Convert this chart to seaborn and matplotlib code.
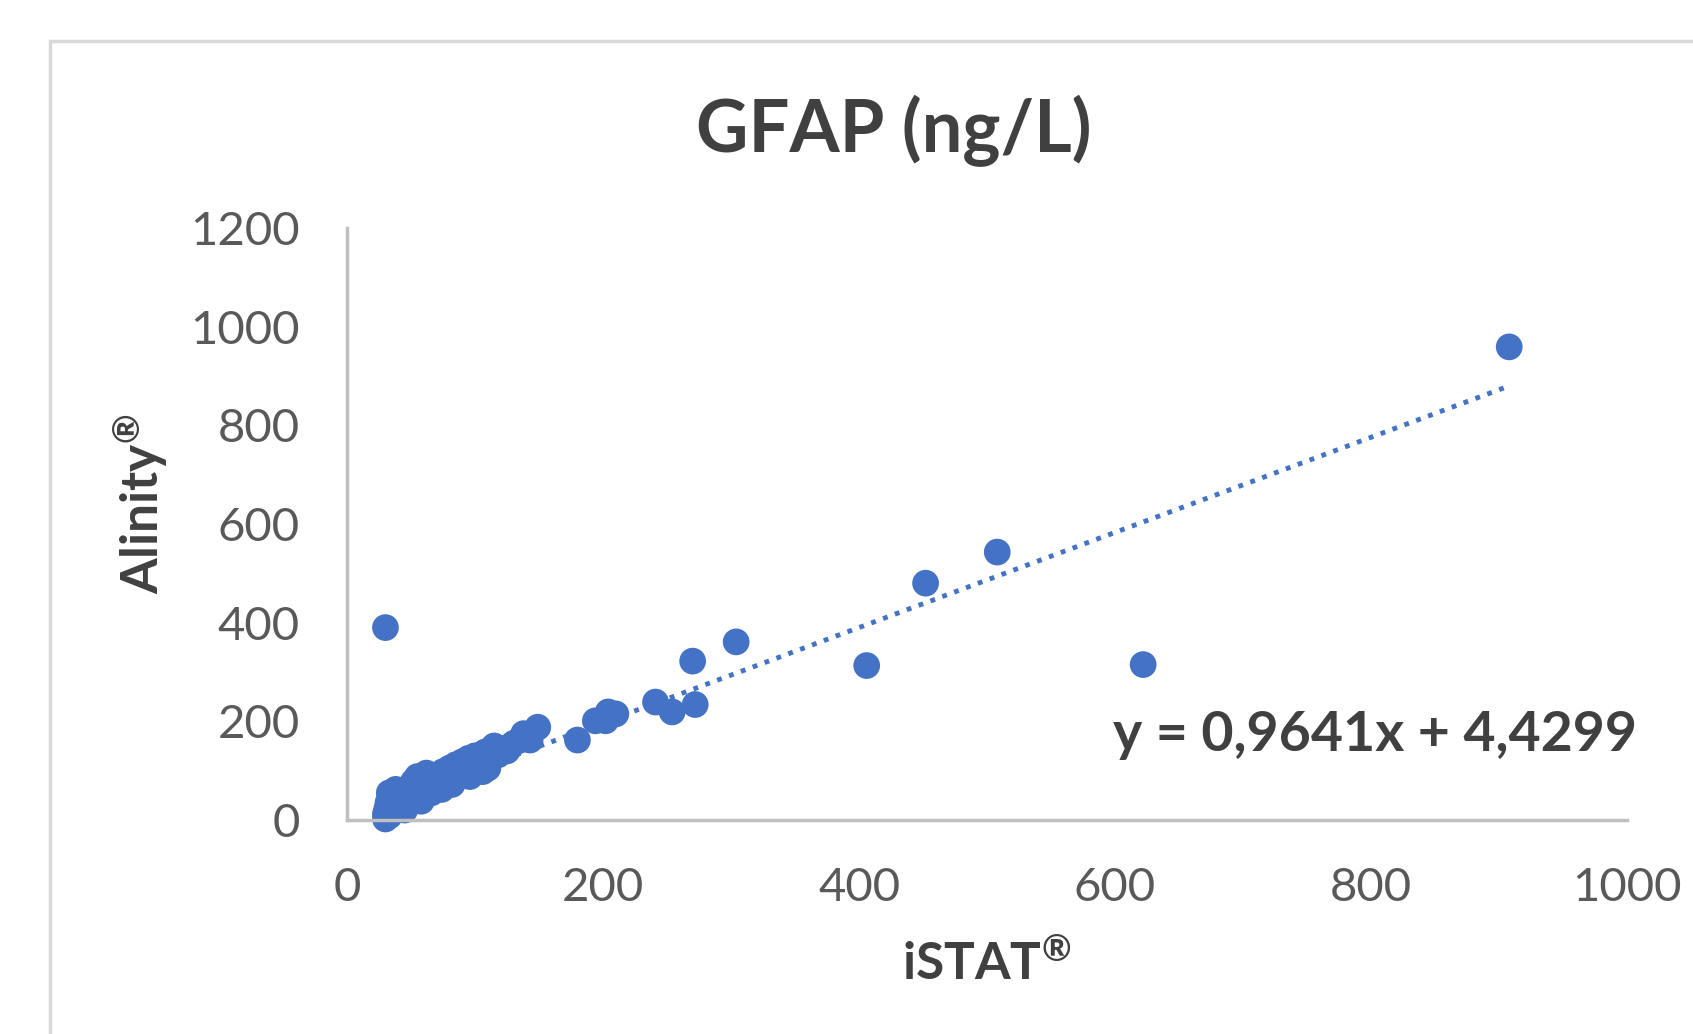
import numpy as np
import pandas as pd
import matplotlib
matplotlib.use("Agg")
import matplotlib.pyplot as plt
from matplotlib.patches import Rectangle
import seaborn as sb

# iSTAT vs Alinity GFAP values
istat = [30, 30, 31, 32, 33, 34, 35, 36, 38, 40, 42, 44, 46, 48, 50, 52, 55, 57, 60, 62,
         65, 68, 70, 72, 75, 78, 80, 83, 85, 88, 90, 92, 95, 98, 100, 103, 105, 108, 110, 113,
         115, 118, 120, 125, 130, 135, 138, 143, 149,
         33, 38, 45, 52, 58, 66, 74, 82, 96, 106,
         180, 194, 202, 204, 210, 241, 254, 270, 272, 304, 406, 452, 508, 622, 908, 30]
alinity = [2, 12, 22, 35, 8, 45, 28, 18, 40, 55, 32, 48, 62, 44, 70, 56, 88, 60, 74, 95,
           68, 82, 90, 75, 98, 84, 105, 92, 112, 100, 118, 108, 125, 110, 130, 115, 122, 138, 105, 128,
           150, 132, 145, 140, 155, 162, 175, 162, 188,
           55, 62, 20, 78, 38, 55, 62, 72, 88, 98,
           162, 201, 201, 219, 215, 239, 219, 322, 234, 361, 313, 480, 543, 315, 959, 390]

slope, intercept = 0.9641, 4.4299
blue = "#4472C4"

df = pd.DataFrame({"iSTAT": istat, "Alinity": alinity})

sb.set_style("white")
plt.rcParams["font.family"] = ["Lato", "DejaVu Sans"]
plt.rcParams["mathtext.fontset"] = "custom"
plt.rcParams["mathtext.rm"] = "Lato:bold"
plt.rcParams["mathtext.default"] = "rm"

fig = plt.figure(figsize=(16.93, 10.34), dpi=100)
ax = fig.add_axes([0.205, 0.207, 0.756, 0.5725])

# outer chart frame
fig.patches.append(Rectangle((0.0295, -0.1), 1.2, 1.06, transform=fig.transFigure,
                             fill=False, edgecolor="#d9d9d9", linewidth=2.5))

xs = np.array([min(istat), max(istat)])
ax.plot(xs, slope * xs + intercept, linestyle=(0, (1, 1.6)), color=blue, linewidth=3.5, zorder=1)
sb.scatterplot(data=df, x="iSTAT", y="Alinity", ax=ax, color=blue, s=370, edgecolor="none",
               linewidth=0, zorder=2, clip_on=False)

ax.set_xlim(0, 1000)
ax.set_ylim(0, 1200)
ax.set_xticks(range(0, 1001, 200))
ax.set_yticks(range(0, 1201, 200))
ax.tick_params(axis="both", labelsize=34, colors="#595959", length=0, pad=34)
for s in ["top", "right"]:
    ax.spines[s].set_visible(False)
for s in ["left", "bottom"]:
    ax.spines[s].set_color("#bfbfbf")
    ax.spines[s].set_linewidth(2.5)

ax.set_xlabel("iSTAT$^{®}$", fontsize=37, fontweight="bold", color="#404040", labelpad=22)
ax.set_ylabel("Alinity$^{®}$", fontsize=37, fontweight="bold", color="#404040", labelpad=14)
ax.yaxis.label.set_y(0.535)

fig.text(0.528, 0.873, "GFAP (ng/L)", ha="center", va="center", fontsize=52,
         fontweight="bold", color="#404040")
ax.text(1008, 173, "y = 0,9641x + 4,4299", ha="right", va="center", fontsize=40,
        fontweight="bold", color="#404040")

fig.savefig("out.png", dpi=100)
